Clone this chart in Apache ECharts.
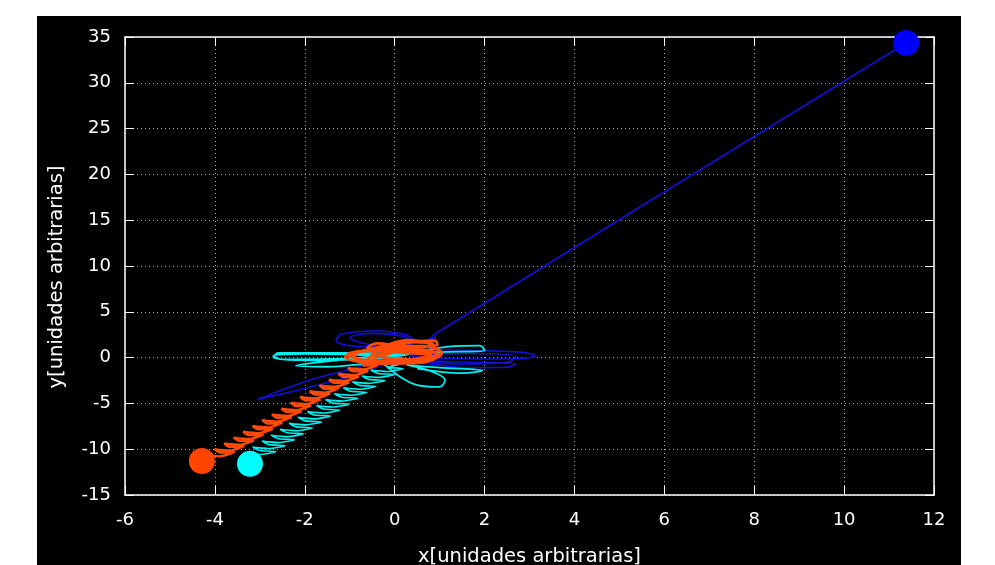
<!DOCTYPE html>
<html>
<head>
<meta charset="utf-8">
<script src="https://cdn.jsdelivr.net/npm/echarts@6/dist/echarts.min.js"></script>
<style>
  html, body { margin: 0; padding: 0; background: #ffffff; }
  #chart { width: 995px; height: 565px; }
</style>
</head>
<body>
<div id="chart"></div>
<script>
// Axis ranges and tick spacing
const xTicks = { min: -6, max: 12, step: 2 };
const yTicks = { min: -15, max: 35, step: 5 };
const xTitle = 'x[unidades arbitrarias]';
const yTitle = 'y[unidades arbitrarias]';

// Final positions of the three bodies
const bluePos = [[11.38, 34.35]];
const orangePos = [[-4.29, -11.29]];
const cyanPos = [[-3.22, -11.60]];

// Trajectory of the blue body (starts at its final position, runs back into the knot)
const bluePath = [
  [11.38, 34.35], [0.97, 2.80], [0.72, 1.75], [0.92, 2.25], [0.55, 1.55],
  [0.30, 2.40], [-0.40, 2.90], [-1.20, 2.55], [-1.30, 1.85], [-0.80, 1.20],
  [0.05, 1.20], [0.40, 1.65], [0.20, 2.30], [-0.50, 2.65], [-1.00, 2.15],
  [-0.60, 1.45], [0.30, 1.00], [1.50, 0.80], [2.80, 0.60], [3.15, 0.20],
  [2.60, -0.15], [1.20, -0.10], [0.30, 0.20], [1.60, 0.45], [2.70, 0.15],
  [2.55, -0.45], [1.50, -0.70], [0.50, -0.30], [1.60, -0.50], [2.70, -0.70],
  [2.50, -1.05], [1.50, -1.10], [0.60, -0.60], [-0.22, -0.81], [-0.77, -1.68],
  [-1.28, -2.45], [-2.33, -3.76], [-3.04, -4.55], [-1.88, -2.45], [-1.04, -1.35],
  [-0.44, -0.48], [0.20, 0.30]
];

// Orange body: the coil running from its final position towards the centre
const orangeCoil = [
  [-4.29, -11.29],
  [-4.22, -10.63], [-3.89, -10.79], [-3.56, -10.30], [-3.89, -10.36],
  [-4.01, -10.00], [-3.68, -10.16], [-3.35, -9.67], [-3.68, -9.73],
  [-3.79, -9.36], [-3.46, -9.52], [-3.13, -9.03], [-3.46, -9.09],
  [-3.58, -8.73], [-3.25, -8.89], [-2.92, -8.40], [-3.25, -8.46],
  [-3.37, -8.10], [-3.04, -8.26], [-2.71, -7.77], [-3.04, -7.83],
  [-3.16, -7.47], [-2.83, -7.63], [-2.50, -7.14], [-2.83, -7.20],
  [-2.95, -6.83], [-2.62, -6.99], [-2.29, -6.50], [-2.62, -6.56],
  [-2.73, -6.20], [-2.40, -6.36], [-2.07, -5.87], [-2.40, -5.93],
  [-2.52, -5.57], [-2.19, -5.73], [-1.86, -5.24], [-2.19, -5.30],
  [-2.31, -4.93], [-1.98, -5.09], [-1.65, -4.60], [-1.98, -4.66],
  [-2.10, -4.30], [-1.77, -4.46], [-1.44, -3.97], [-1.77, -4.03],
  [-1.89, -3.67], [-1.56, -3.83], [-1.23, -3.34], [-1.56, -3.40],
  [-1.67, -3.03], [-1.34, -3.19], [-1.01, -2.70], [-1.34, -2.76],
  [-1.46, -2.40], [-1.13, -2.56], [-0.80, -2.07], [-1.13, -2.13],
  [-1.25, -1.77], [-0.92, -1.93], [-0.59, -1.44], [-0.92, -1.50],
  [-1.04, -1.14], [-0.71, -1.30], [-0.38, -0.81], [-0.71, -0.87]
];

// Orange body: loops inside the central knot
const orangeKnot = [
  [-0.71, -0.87], [-0.30, 0.20], [0.50, 0.90], [0.95, 0.45], [0.40, -0.35],
  [-0.70, -0.25], [-1.05, 0.35], [-0.30, 0.95], [0.70, 1.20], [1.05, 0.50],
  [0.60, -0.55], [-0.40, -0.65], [-1.10, 0.05], [-0.70, 0.75], [0.10, 1.55],
  [0.90, 1.85], [0.95, 1.35], [0.20, 1.25], [-0.40, 1.55], [-0.60, 1.10],
  [0.00, 0.60], [0.80, 0.30], [0.30, -0.20], [-0.50, 0.40], [0.50, 1.70],
  [0.85, 1.50], [0.20, 0.90], [-0.80, 0.60], [-0.90, 0.00], [-0.20, -0.40],
  [0.70, -0.20], [1.00, 0.30], [0.40, 0.80], [-0.30, 0.50], [-0.60, -0.10],
  [0.10, -0.50], [0.90, -0.10], [0.60, 0.60], [-0.20, 1.20], [0.30, 1.90],
  [0.80, 1.60]
];

// Cyan body: the coil running from its final position towards the centre
const cyanCoil = [
  [-3.22, -11.60],
  [-3.36, -10.42], [-3.00, -10.58], [-2.64, -10.26], [-3.00, -10.15],
  [-3.16, -9.77], [-2.80, -9.93], [-2.44, -9.61], [-2.80, -9.50],
  [-2.95, -9.12], [-2.59, -9.28], [-2.23, -8.96], [-2.59, -8.85],
  [-2.75, -8.47], [-2.39, -8.63], [-2.03, -8.31], [-2.39, -8.20],
  [-2.55, -7.83], [-2.19, -7.99], [-1.83, -7.67], [-2.19, -7.56],
  [-2.35, -7.18], [-1.99, -7.34], [-1.63, -7.02], [-1.99, -6.91],
  [-2.15, -6.53], [-1.79, -6.69], [-1.43, -6.37], [-1.79, -6.26],
  [-1.94, -5.89], [-1.58, -6.05], [-1.22, -5.73], [-1.58, -5.62],
  [-1.74, -5.24], [-1.38, -5.40], [-1.02, -5.08], [-1.38, -4.97],
  [-1.54, -4.59], [-1.18, -4.75], [-0.82, -4.43], [-1.18, -4.32],
  [-1.34, -3.95], [-0.98, -4.11], [-0.62, -3.79], [-0.98, -3.68],
  [-1.14, -3.30], [-0.78, -3.46], [-0.42, -3.14], [-0.78, -3.03],
  [-0.94, -2.65], [-0.58, -2.81], [-0.22, -2.49], [-0.58, -2.38],
  [-0.73, -2.00], [-0.37, -2.16], [-0.01, -1.84], [-0.37, -1.73],
  [-0.53, -1.36], [-0.17, -1.52], [0.19, -1.20], [-0.17, -1.09]
];

// Cyan body: long flat loops and the lower ellipse in the central knot
const cyanKnot = [
  [-0.17, -1.09], [0.30, -0.30], [-0.50, 0.20], [-2.00, 0.40], [-2.70, 0.20],
  [-2.50, -0.20], [-1.00, -0.10], [0.30, 0.30], [-1.20, 0.50], [-2.60, 0.50],
  [-2.70, 0.00], [-1.80, -0.30], [-0.20, 0.00], [1.20, 1.20], [1.90, 1.30],
  [2.00, 0.80], [1.00, 0.60], [0.00, 0.30], [-1.50, -0.40], [-2.20, -0.90],
  [-1.50, -1.00], [-0.30, -0.60], [-0.17, -1.00], [0.12, -2.10], [0.50, -3.00],
  [1.00, -3.20], [1.12, -2.45], [0.85, -1.57], [0.27, -0.80], [1.00, -1.10],
  [1.95, -1.40], [1.50, -1.70], [0.50, -1.20]
];

const FONT = 'DejaVu Sans';
const white = '#ffffff';
const gridDots = { color: '#a8a8a8', width: 1, type: [1, 3] };

function axisBase(pos, range) {
  return {
    type: 'value', position: pos,
    min: range.min, max: range.max, interval: range.step,
    axisLine: { onZero: false, lineStyle: { color: white, width: 1.5 } },
    axisTick: { inside: true, length: 9, lineStyle: { color: white, width: 1 } },
    axisLabel: { show: false }, splitLine: { show: false }
  };
}

const xMain = axisBase('bottom', xTicks);
xMain.axisLabel = { color: white, fontSize: 18, fontFamily: FONT, margin: 16 };
xMain.splitLine = { show: true, lineStyle: gridDots };
xMain.name = xTitle;
xMain.nameLocation = 'middle';
xMain.nameGap = 52;
xMain.nameTextStyle = { color: white, fontSize: 19.5, fontFamily: FONT };

const yMain = axisBase('left', yTicks);
yMain.axisLabel = { color: white, fontSize: 18, fontFamily: FONT, margin: 14 };
yMain.splitLine = { show: true, lineStyle: gridDots };
yMain.name = yTitle;
yMain.nameLocation = 'middle';
yMain.nameGap = 58;
yMain.nameRotate = 90;
yMain.nameTextStyle = { color: white, fontSize: 19.5, fontFamily: FONT, padding: [0, 22, 0, 0] };

function path(data, color, width, z, smooth) {
  return {
    type: 'line', data: data, xAxisIndex: 0, yAxisIndex: 0,
    showSymbol: false, symbol: 'none', smooth: smooth, z: z,
    lineStyle: { color: color, width: width }, silent: true, animation: false
  };
}
function body(data, color) {
  return {
    type: 'scatter', data: data, xAxisIndex: 0, yAxisIndex: 0,
    symbol: 'circle', symbolSize: 26, z: 10,
    itemStyle: { color: color, opacity: 1 }, silent: true, animation: false
  };
}

const chart = echarts.init(document.getElementById('chart'), null, { renderer: 'canvas' });
chart.setOption({
  backgroundColor: '#ffffff',
  animation: false,
  graphic: [{
    type: 'rect', z: -10, silent: true,
    shape: { x: 37, y: 16, width: 924, height: 560 },
    style: { fill: '#000000' }
  }],
  grid: { left: 125, right: 61, top: 37, bottom: 70, outerBoundsMode: 'none' },
  xAxis: [xMain, axisBase('top', xTicks)],
  yAxis: [yMain, axisBase('right', yTicks)],
  series: [
    path(bluePath, '#1010d8', 1.6, 3, 0.35),
    path(cyanCoil, '#00f0f0', 1.6, 4, 0.25),
    path(cyanKnot, '#00f0f0', 1.8, 4, 0.35),
    path(orangeCoil, '#ff4a0a', 2.4, 5, 0.25),
    path(orangeKnot, '#ff4a0a', 2.8, 5, 0.35),
    body(bluePos, '#0000ff'),
    body(orangePos, '#ff4500'),
    body(cyanPos, '#00ffff')
  ]
});
</script>
</body>
</html>
